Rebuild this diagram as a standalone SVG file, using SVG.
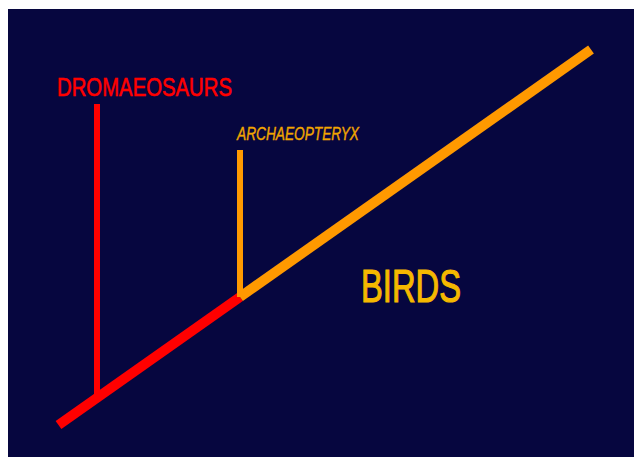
<svg xmlns="http://www.w3.org/2000/svg" width="634" height="457" viewBox="0 0 634 457">
<style>
.lbl{font-family:"Liberation Sans",Arial,sans-serif;}
.red{stroke:#ff0000;fill:none;}
.org{stroke:#ff9900;fill:none;}
</style>
<rect x="0" y="0" width="634" height="457" fill="#ffffff"/>
<rect x="8" y="9" width="626" height="448" fill="#06063f"/>
<g id="connectors">
<line class="red" x1="58.5" y1="425" x2="240" y2="297" stroke-width="10"/>
<line class="org" x1="240" y1="297" x2="591" y2="49.5" stroke-width="10"/>
<line class="red" x1="97" y1="104" x2="97" y2="398" stroke-width="6"/>
<line class="org" x1="240" y1="150" x2="240" y2="297" stroke-width="6"/>
</g>
<g id="dromaeosaurs">
<text class="lbl" x="57" y="96" font-size="25" fill="#ff0000" stroke="#ff0000" stroke-width="0.6" textLength="175" lengthAdjust="spacingAndGlyphs">DROMAEOSAURS</text>
</g>
<g id="archaeopteryx">
<text class="lbl" x="237" y="140" font-size="18" font-style="italic" fill="#f0a500" stroke="#f0a500" stroke-width="0.4" textLength="122" lengthAdjust="spacingAndGlyphs">ARCHAEOPTERYX</text>
</g>
<g id="birds">
<text class="lbl" x="361" y="302" font-size="47" fill="#f5b800" stroke="#f5b800" stroke-width="1.2" textLength="100" lengthAdjust="spacingAndGlyphs">BIRDS</text>
</g>
</svg>
